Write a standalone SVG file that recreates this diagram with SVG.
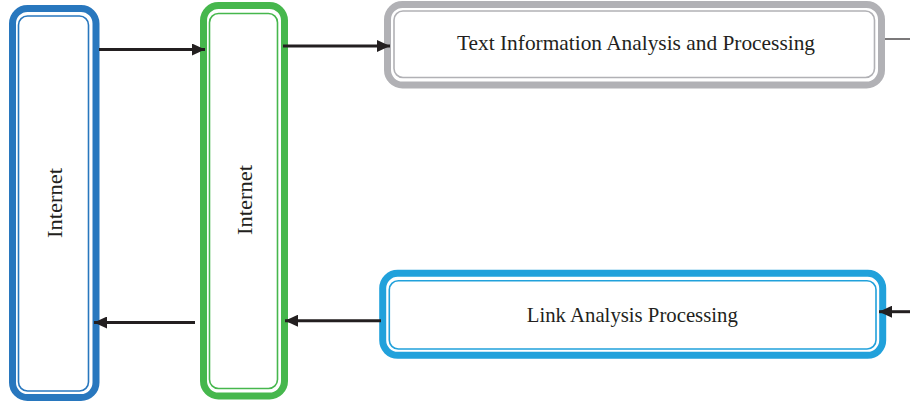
<svg xmlns="http://www.w3.org/2000/svg" width="910" height="407" viewBox="0 0 910 407">
  <defs>
    <marker id="arrow" viewBox="0 0 13 12" refX="13" refY="6" markerWidth="13" markerHeight="12" markerUnits="userSpaceOnUse" orient="auto">
      <path d="M0,0 L13,6 L0,12 Z" fill="#231f20"/>
    </marker>
    <style>
      .outer { fill: #fff; stroke-width: 7; }
      .inner { fill: none; stroke-width: 1.6; }
      .lbl { font-family: "Liberation Serif", "Times New Roman", serif; font-size: 21px; fill: #231f20; text-anchor: middle; }
      .conn { stroke: #231f20; stroke-width: 3; fill: none; }
      .blue { stroke: #2877be; }
      .green { stroke: #46b74d; }
      .gray { stroke: #b1b1b5; }
      .sky { stroke: #21a1db; }
    </style>
  </defs>

  <g id="internet-left">
    <rect class="outer blue" x="12.5" y="8.5" width="83.5" height="389" rx="15"/>
    <rect class="inner blue" x="18.5" y="16" width="70" height="375" rx="9"/>
    <text class="lbl" transform="translate(62 203) rotate(-90)" textLength="70" lengthAdjust="spacingAndGlyphs">Internet</text>
  </g>

  <g id="internet-right">
    <rect class="outer green" x="203.5" y="5.5" width="81" height="390.5" rx="15"/>
    <rect class="inner green" x="209.5" y="13.5" width="68" height="375" rx="9"/>
    <text class="lbl" transform="translate(252 200) rotate(-90)" textLength="70" lengthAdjust="spacingAndGlyphs">Internet</text>
  </g>

  <g id="text-analysis">
    <rect class="outer gray" x="387.5" y="4.5" width="494" height="80.5" rx="15"/>
    <rect class="inner gray" x="394" y="11" width="480.5" height="66.5" rx="9"/>
    <text class="lbl" x="636" y="50" textLength="358" lengthAdjust="spacingAndGlyphs">Text Information Analysis and Processing</text>
  </g>

  <g id="link-analysis">
    <rect class="outer sky" x="382.7" y="273.3" width="500" height="82" rx="15"/>
    <rect class="inner sky" x="389.3" y="280.7" width="486.7" height="68.3" rx="9"/>
    <text class="lbl" x="632.3" y="321.5" textLength="211" lengthAdjust="spacingAndGlyphs">Link Analysis Processing</text>
  </g>

  <g id="connectors">
    <line class="conn" x1="99" y1="49.5" x2="205" y2="49.5" marker-end="url(#arrow)"/>
    <line class="conn" x1="283" y1="46" x2="390" y2="46" marker-end="url(#arrow)"/>
    <line stroke="#231f20" stroke-width="1.2" x1="885" y1="39" x2="910" y2="39"/>
    <line class="conn" x1="381" y1="320.7" x2="285" y2="320.7" marker-end="url(#arrow)"/>
    <line class="conn" x1="195" y1="322.5" x2="94" y2="322.5" marker-end="url(#arrow)"/>
    <line class="conn" x1="910" y1="311.7" x2="879" y2="311.7" marker-end="url(#arrow)"/>
  </g>
</svg>
